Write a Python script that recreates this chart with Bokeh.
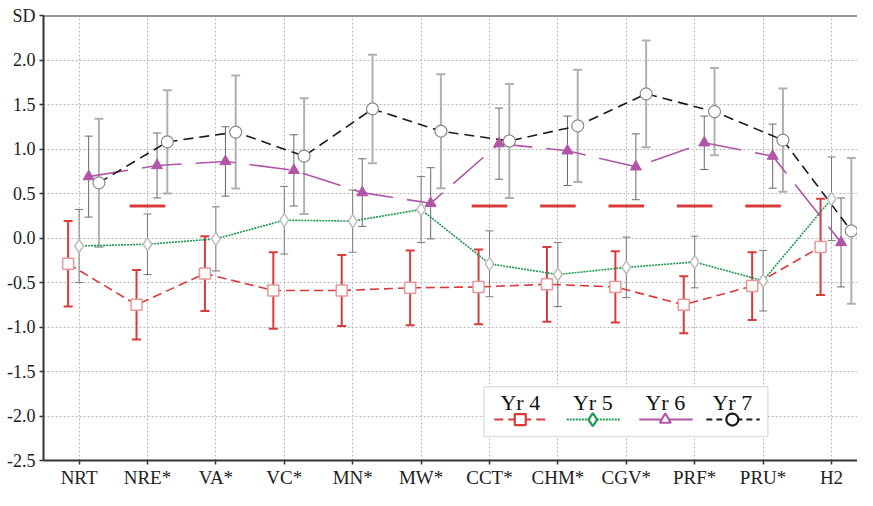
from bokeh.plotting import figure
from bokeh.models import (ColumnDataSource, Whisker, TeeHead, FixedTicker, Span,
                          Range1d, Label, BoxAnnotation)
from bokeh.embed import file_html
from bokeh.resources import INLINE

# ---------------- data ----------------
categories = ["NRT", "NRE*", "VA*", "VC*", "MN*", "MW*", "CCT*", "CHM*",
              "CGV*", "PRF*", "PRU*", "H2"]

yr4 = [-0.29, -0.75, -0.40, -0.59, -0.59, -0.56, -0.55, -0.52, -0.55, -0.75, -0.54, -0.10]
yr4_err = [0.48, 0.39, 0.42, 0.43, 0.40, 0.42, 0.42, 0.42, 0.40, 0.32, 0.38, 0.54]

yr5 = [-0.09, -0.07, -0.01, 0.20, 0.19, 0.32, -0.29, -0.41, -0.33, -0.27, -0.48, 0.44]
yr5_err = [0.41, 0.34, 0.36, 0.38, 0.35, 0.37, 0.37, 0.36, 0.34, 0.29, 0.34, 0.47]

yr6 = [0.69, 0.815, 0.86, 0.76, 0.51, 0.39, 1.06, 0.98, 0.80, 1.07, 0.92, -0.05]
yr6_err = [0.455, 0.365, 0.39, 0.40, 0.38, 0.40, 0.40, 0.39, 0.37, 0.30, 0.36, 0.50]

yr7 = [0.62, 1.08, 1.19, 0.92, 1.45, 1.20, 1.09, 1.26, 1.62, 1.42, 1.10, 0.08]
yr7_err = [0.72, 0.58, 0.635, 0.65, 0.61, 0.64, 0.64, 0.63, 0.60, 0.49, 0.58, 0.82]

# short red threshold dashes drawn in the original
thresh_cats = ["NRE*", "CCT*", "CHM*", "CGV*", "PRF*", "PRU*"]
thresh_level = 0.36

y_ticks = [-2.5, -2.0, -1.5, -1.0, -0.5, 0.0, 0.5, 1.0, 1.5, 2.0, 2.5]
series_names = ["Yr 4", "Yr 5", "Yr 6", "Yr 7"]

# ---------------- styling ----------------
FONT = "Liberation Serif"
RED = "#d93b3b"
GREEN = "#1e9a50"
PURPLE = "#b155a9"
BLACK = "#1a1a1a"

idx = list(range(len(categories)))

p = figure(width=857, height=490, output_backend="svg", toolbar_location=None,
           x_range=Range1d(-0.52, 11.38), y_range=Range1d(-2.5, 2.5),
           min_border_left=43, min_border_right=0, min_border_top=15,
           min_border_bottom=25)
p.outline_line_color = None
p.background_fill_color = "white"
p.border_fill_color = "white"

# axes
p.xaxis.ticker = FixedTicker(ticks=idx)
p.xaxis.major_label_overrides = {i: c for i, c in zip(idx, categories)}
p.yaxis.ticker = FixedTicker(ticks=y_ticks)
ylab = {v: f"{v:.1f}" for v in y_ticks}
ylab[2.5] = "SD"
p.yaxis.major_label_overrides = ylab
for ax in (p.xaxis, p.yaxis):
    ax.axis_line_color = "#333333"
    ax.axis_line_width = 2
    ax.major_tick_line_color = "#333333"
    ax.major_tick_line_width = 1.5
    ax.major_tick_out = 4
    ax.major_tick_in = 0
    ax.minor_tick_line_color = None
    ax.major_label_text_font = FONT
    ax.major_label_text_color = "#222222"
p.xaxis.major_label_text_font_size = "19px"
p.yaxis.major_label_text_font_size = "18px"
p.xaxis.major_label_standoff = 2
p.yaxis.major_label_standoff = 4

p.xgrid.ticker = FixedTicker(ticks=idx)
p.ygrid.ticker = FixedTicker(ticks=y_ticks)
for g in (p.xgrid, p.ygrid):
    g.grid_line_color = "#b8b8b8"
    g.grid_line_dash = "2 2"
    g.grid_line_width = 1

p.add_layout(Span(location=2.5, dimension="width", line_color="#333333", line_width=2))

# offsets of each series around its category
offsets = {"Yr 4": -0.16, "Yr 5": 0.0, "Yr 6": 0.14, "Yr 7": 0.29}


def whisk(vals, errs, off, color, width, head):
    src = ColumnDataSource(dict(
        x=[i + off for i in idx],
        upper=[v + e for v, e in zip(vals, errs)],
        lower=[v - e for v, e in zip(vals, errs)]))
    w = Whisker(source=src, base="x", upper="upper", lower="lower",
                dimension="height", line_color=color, line_width=width,
                upper_head=TeeHead(size=head, line_color=color, line_width=width),
                lower_head=TeeHead(size=head, line_color=color, line_width=width))
    p.add_layout(w)


# error bars
whisk(yr7, yr7_err, offsets["Yr 7"], "#b0b0b0", 2, 9)
whisk(yr6, yr6_err, offsets["Yr 6"], "#6a6a6a", 1, 8)
whisk(yr5, yr5_err, offsets["Yr 5"], "#7a7a7a", 1, 8)
whisk(yr4, yr4_err, offsets["Yr 4"], RED, 2, 9)

# threshold dashes
ti = [categories.index(c) for c in thresh_cats]
p.segment(x0=[i - 0.26 for i in ti], x1=[i + 0.26 for i in ti],
          y0=[thresh_level] * len(ti), y1=[thresh_level] * len(ti),
          line_color=RED, line_width=3)

# series lines and markers
x4 = [i + offsets["Yr 4"] for i in idx]
x5 = [i + offsets["Yr 5"] for i in idx]
x6 = [i + offsets["Yr 6"] for i in idx]
x7 = [i + offsets["Yr 7"] for i in idx]

p.line(x4, yr4, line_color=RED, line_width=1.6, line_dash="9 5")
p.line(x5, yr5, line_color=GREEN, line_width=1.6, line_dash="2 1")
p.line(x6, yr6, line_color=PURPLE, line_width=1.6, line_dash="40 14")
p.line(x7, yr7, line_color=BLACK, line_width=1.6, line_dash="10 6")

p.scatter(x4, yr4, marker="square", size=11, fill_color="white",
          line_color="#e49a9a", line_width=1.5)
p.scatter(x5, yr5, marker="diamond", size=13, fill_color="white",
          line_color="#bdbdbd", line_width=1.5)
p.scatter(x6, yr6, marker="triangle", size=11, fill_color=PURPLE,
          line_color=PURPLE, line_width=1)
p.scatter(x7, yr7, marker="circle", size=12, fill_color="white",
          line_color="#8a8a8a", line_width=1.2)

# ---------------- legend (drawn manually: labels above samples) ----------------
p.add_layout(BoxAnnotation(left=5.92, right=10.07, top=-1.67, bottom=-2.23,
                           fill_color="white", fill_alpha=1.0,
                           line_color="#9a9a9a", line_width=1.5, level="annotation"))
leg_x = [6.45, 7.51, 8.57, 9.55]
leg_y_text = -1.985
leg_y_line = -2.04
leg_styles = [
    (RED, "9 5", "square", 11),
    (GREEN, "2 1", "diamond", 13),
    (PURPLE, "solid", "triangle", 11),
    (BLACK, "6 4", "circle", 12),
]
for name, cx, (col, dash, mk, sz) in zip(series_names, leg_x, leg_styles):
    r = p.line([cx - 0.38, cx + 0.40], [leg_y_line, leg_y_line], line_color=col,
               line_width=2, line_dash=dash)
    r.level = "overlay"
    s = p.scatter([cx], [leg_y_line], marker=mk, size=sz, fill_color="white",
                  line_color=col, line_width=2.2)
    s.level = "overlay"
    p.add_layout(Label(x=cx, y=leg_y_text, text=name, text_font=FONT,
                       text_font_size="22px", text_align="center",
                       text_baseline="bottom", text_color="#111111",
                       level="overlay"))

open("out.html", "w").write(file_html(p, INLINE))
